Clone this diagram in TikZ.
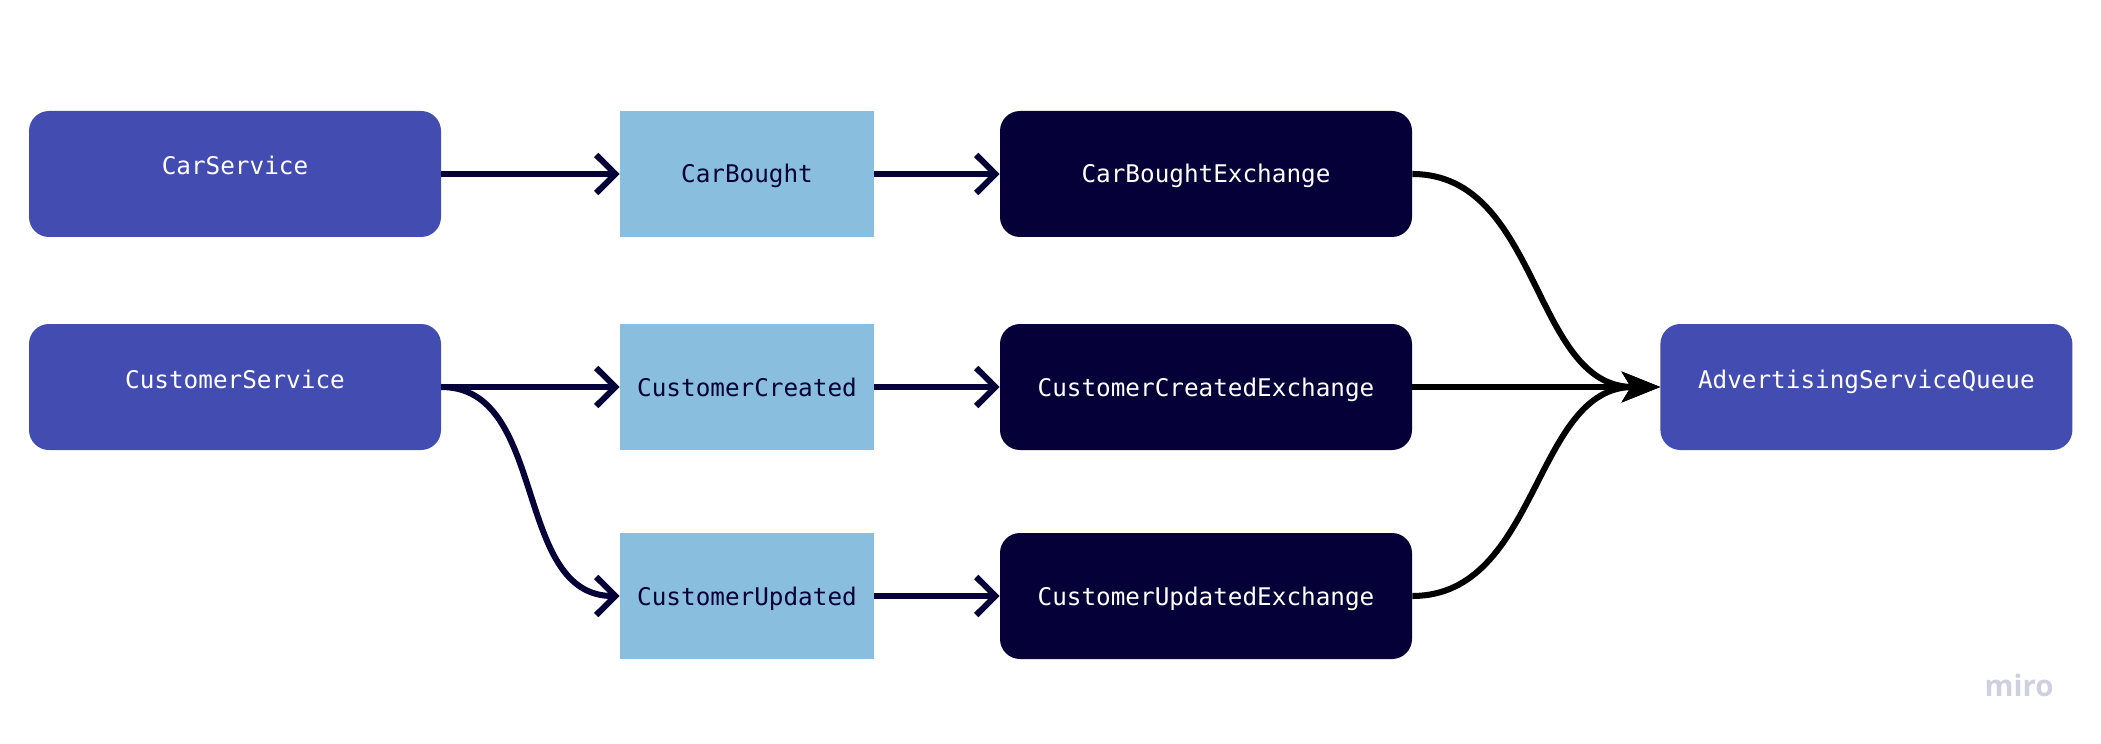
\documentclass[tikz,border=0pt]{standalone}
\usepackage{fontspec}
\setmonofont{DejaVu Sans Mono}
\newfontfamily\miroFont{Open Sans}
\usepackage{xcolor}
\usetikzlibrary{arrows.meta,positioning,calc}

\definecolor{svcblue}{RGB}{67,76,177}
\definecolor{evtblue}{RGB}{137,190,222}
\definecolor{navy}{RGB}{5,0,56}
\definecolor{mirogray}{RGB}{206,207,223}

\begin{document}
\begin{tikzpicture}[
  box/.style={rectangle, minimum height=3.15cm, inner sep=0pt,
    font=\ttfamily\fontsize{17.3}{20}\selectfont, text height=0.45cm, text depth=0cm},
  svc/.style={box, rounded corners=0.5cm, fill=svcblue, text=white,
    minimum width=10.3cm, text depth=0.4cm},
  evt/.style={box, fill=evtblue, text=navy, minimum width=6.35cm},
  exch/.style={box, rounded corners=0.5cm, fill=navy, text=white, minimum width=10.3cm},
  pub/.style={draw=navy, line width=4.3pt, -{Straight Barb[length=0.48cm,width=0.95cm]}},
  sub/.style={draw=black, line width=4.3pt, -{Stealth[length=0.95cm,width=0.75cm,inset=0.22cm]}}
]
  \useasboundingbox (0,0) rectangle (52.525,18.575);

  % services
  \node[svc] (cs) at (5.875,14.225) {CarService};
  \node[svc] (cus) at (5.875,8.9) {CustomerService};

  % events
  \node[evt] (cb) at (18.675,14.225) {CarBought};
  \node[evt] (cc) at (18.675,8.9) {CustomerCreated};
  \node[evt] (cu) at (18.675,3.675) {CustomerUpdated};

  % exchanges
  \node[exch] (cbx) at (30.15,14.225) {CarBoughtExchange};
  \node[exch] (ccx) at (30.15,8.9) {CustomerCreatedExchange};
  \node[exch] (cux) at (30.15,3.675) {CustomerUpdatedExchange};

  % queue
  \node[svc] (q) at (46.66,8.9) {AdvertisingServiceQueue};

  \draw[pub] (cs) -- (cb);
  \draw[pub] (cus) -- (cc);
  \draw[pub] (cus.east) to[out=0,in=180] (cu.west);
  \draw[pub] (cb) -- (cbx);
  \draw[pub] (cc) -- (ccx);
  \draw[pub] (cu) -- (cux);

  % bindings
  \draw[sub] (cbx.east) to[out=0,in=180] (q.west);
  \draw[sub] (ccx) -- (q);
  \draw[sub] (cux.east) to[out=0,in=180] (q.west);

  \node[font=\miroFont\bfseries\fontsize{21}{24}\selectfont, text=mirogray] (miro)
    at (50.48,1.45) {miro};
\end{tikzpicture}
\end{document}
